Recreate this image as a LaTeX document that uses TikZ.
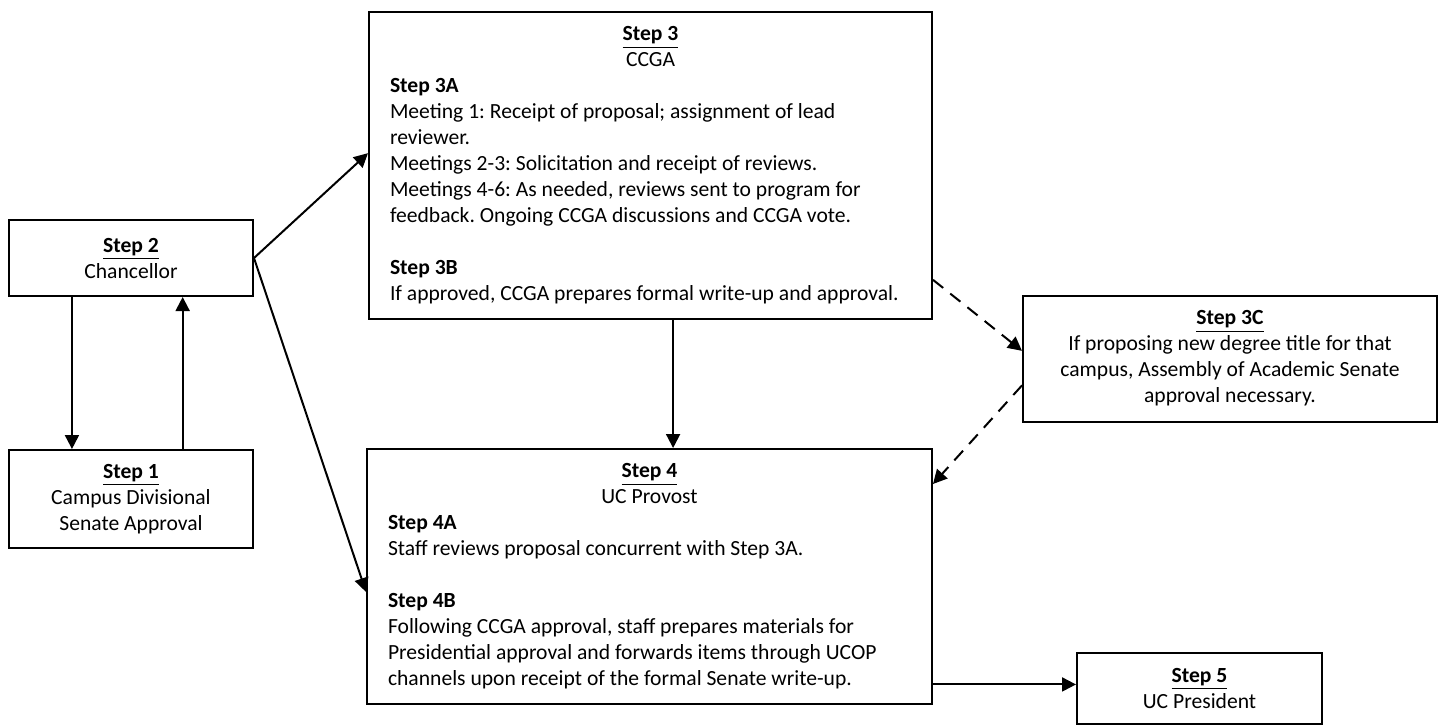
\documentclass[tikz,border=0pt]{standalone}
\usepackage{fontspec}
\setmainfont{Carlito}
\usepackage{tikz}
\usetikzlibrary{calc}
\usetikzlibrary{arrows.meta}
\frenchspacing

\newcommand{\steptitle}[1]{\textbf{\underline{#1}}}
\newcommand{\midline}[1]{\makebox[\linewidth]{#1}}
\newcommand{\plainspace}{\spaceskip=0pt\xspaceskip=0pt}

\begin{document}
\begin{tikzpicture}[x=0.5pt,y=-0.5pt,
every node/.style={font=\fontsize{10.8}{13}\selectfont},
box/.style={draw,line width=1pt,rectangle,inner sep=0pt,align=center},
leftbox/.style={box,align=left,inner xsep=10.5pt},
arr/.style={line width=1pt,-{Triangle[length=7pt,width=7pt]}},
darr/.style={arr,dash pattern=on 6.5pt off 4.5pt}]
\useasboundingbox (0,0) rectangle (1447,725);
%\draw[help lines] (0,0) grid (1447,725);

\node (Step2) [box,minimum width=122pt,minimum height=38pt] at (131,258)
  {\steptitle{Step 2}\\ Chancellor};
\node (Step1) [box,minimum width=122pt,minimum height=49pt] at (131,499)
  {\steptitle{Step 1}\\ Campus Divisional\\ Senate Approval};

\node (Step3) [leftbox,text width=260.5pt,minimum height=153.5pt] at (650.5,165.5)
  {\plainspace
   \midline{\steptitle{Step 3}}\\ \midline{CCGA}\\
   \textbf{Step 3A}\\
   Meeting 1: Receipt of proposal; assignment of lead\\
   reviewer.\\
   Meetings 2-3: Solicitation and receipt of reviews.\\
   Meetings 4-6: As needed, reviews sent to program for\\
   feedback. Ongoing CCGA discussions and CCGA vote.\\[13pt]
   \textbf{Step 3B}\\
   If approved, CCGA prepares formal write-up and approval.};

\node (Step3C) [box,minimum width=207pt,minimum height=63pt] at (1230,358.5)
  {\steptitle{Step 3C}\\ If proposing new degree title for that\\
   campus, Assembly of Academic Senate\\ approval necessary.};

\node (Step4) [leftbox,text width=261.5pt,minimum height=127.5pt] at (649.5,576.5)
  {\plainspace
   \midline{\steptitle{Step 4}}\\ \midline{UC Provost}\\
   \textbf{Step 4A}\\
   Staff reviews proposal concurrent with Step 3A.\\[13pt]
   \textbf{Step 4B}\\
   Following CCGA approval, staff prepares materials for\\
   Presidential approval and forwards items through UCOP\\
   channels upon receipt of the formal Senate write-up.};

\node (Step5) [box,minimum width=122.5pt,minimum height=35.5pt] at (1199.5,688.5)
  {\steptitle{Step 5}\\ UC President};

% Step 2 <-> Step 1
\draw[arr] ($(Step2.south west)!0.26!(Step2.south east)$) coordinate (d1)
  -- (d1 |- Step1.north);
\draw[arr] ($(Step1.north west)!0.71!(Step1.north east)$) coordinate (u1)
  -- (u1 |- Step2.south);

% Chancellor to CCGA and Provost
\draw[arr] (Step2.east) -- ($(Step3.north west)!0.46!(Step3.south west)$);
\draw[arr] (Step2.east) -- ($(Step4.north west)!0.56!(Step4.south west)$);

\draw[arr] ($(Step3.south west)!0.54!(Step3.south east)$) coordinate (m3)
  -- (m3 |- Step4.north);

% optional Step 3C
\draw[darr] ($(Step3.north east)!0.87!(Step3.south east)$)
  -- ($(Step3C.north west)!0.44!(Step3C.south west)$);
\draw[darr] ($(Step3C.north west)!0.71!(Step3C.south west)$)
  -- ($(Step4.north east)!0.14!(Step4.south east)$);

\draw[arr] ($(Step4.north east)!0.92!(Step4.south east)$) coordinate (p4)
  -- (p4 -| Step5.west);
\end{tikzpicture}
\end{document}
